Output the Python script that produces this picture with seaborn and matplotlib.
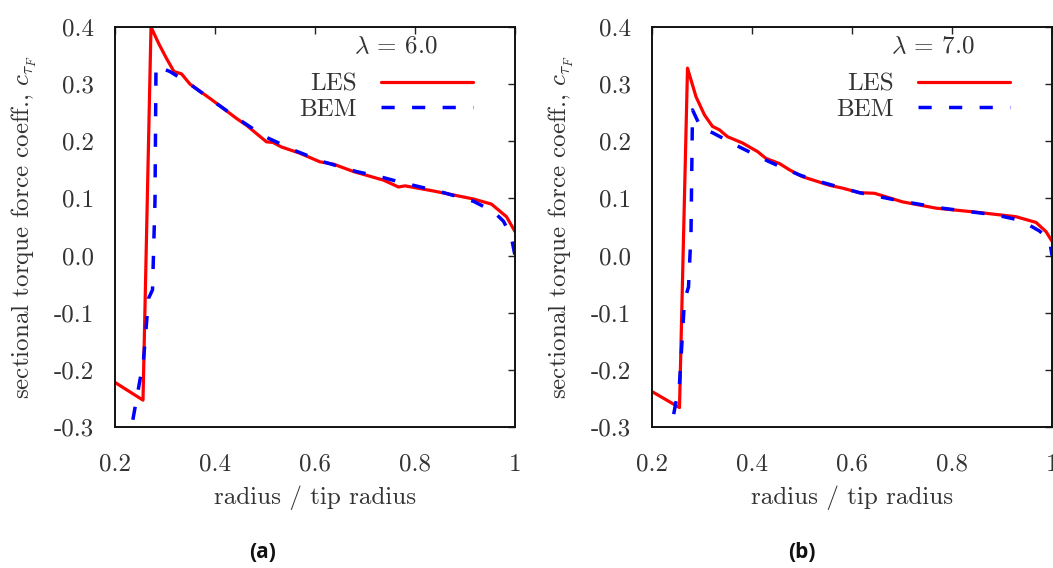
import numpy as np
import pandas as pd
import matplotlib
matplotlib.use("Agg")
import matplotlib.pyplot as plt
import seaborn as sns

# ---------------- data ----------------
les6_x = [0.20, 0.256, 0.272, 0.288, 0.303, 0.318, 0.333, 0.35, 0.39, 0.443, 0.463, 0.503,
          0.516, 0.533, 0.57, 0.61, 0.637, 0.677, 0.737, 0.767, 0.78, 0.837, 0.917, 0.953, 0.983, 1.0]
les6_y = [-0.222, -0.253, 0.40, 0.37, 0.345, 0.322, 0.318, 0.30, 0.275, 0.24, 0.228, 0.199,
          0.198, 0.19, 0.179, 0.164, 0.16, 0.147, 0.132, 0.12, 0.122, 0.113, 0.099, 0.09, 0.068, 0.042]
bem6_x = [0.225, 0.257, 0.267, 0.275, 0.28, 0.282, 0.31, 0.35, 0.40, 0.45, 0.50, 0.52, 0.556,
          0.617, 0.683, 0.73, 0.777, 0.85, 0.917, 0.957, 0.977, 0.992, 1.0]
bem6_y = [-0.34, -0.183, -0.075, -0.06, 0.097, 0.332, 0.322, 0.30, 0.268, 0.237, 0.208, 0.20, 0.185,
          0.164, 0.147, 0.138, 0.127, 0.112, 0.095, 0.077, 0.06, 0.035, 0.0]

les7_x = [0.20, 0.255, 0.271, 0.288, 0.305, 0.321, 0.335, 0.351, 0.381, 0.411, 0.428, 0.455, 0.475,
          0.501, 0.555, 0.581, 0.615, 0.645, 0.701, 0.768, 0.848, 0.928, 0.968, 0.988, 1.0]
les7_y = [-0.238, -0.266, 0.328, 0.278, 0.246, 0.226, 0.22, 0.208, 0.197, 0.182, 0.17, 0.161, 0.15,
          0.138, 0.123, 0.118, 0.11, 0.109, 0.094, 0.083, 0.076, 0.068, 0.058, 0.042, 0.025]
bem7_x = [0.232, 0.255, 0.265, 0.273, 0.278, 0.281, 0.298, 0.321, 0.375, 0.435, 0.495, 0.541,
          0.615, 0.70, 0.78, 0.888, 0.93, 0.955, 0.975, 0.995, 1.0]
bem7_y = [-0.33, -0.224, -0.078, -0.055, 0.039, 0.255, 0.223, 0.215, 0.19, 0.164, 0.141, 0.128,
          0.11, 0.095, 0.083, 0.071, 0.063, 0.053, 0.043, 0.027, 0.0]

tsr_labels = [r"$\lambda$ = 6.0", r"$\lambda$ = 7.0"]
panel_labels = ["(a)", "(b)"]
x_ticks = [0.2, 0.4, 0.6, 0.8, 1.0]
x_ticklabels = ["0.2", "0.4", "0.6", "0.8", "1"]
y_ticks = [0.4, 0.3, 0.2, 0.1, 0.0, -0.1, -0.2, -0.3]
y_ticklabels = ["0.4", "0.3", "0.2", "0.1", "0.0", "-0.1", "-0.2", "-0.3"]

# ---------------- style ----------------
sns.set_style("white")
plt.rcParams["font.family"] = ["cmr10", "DejaVu Serif"]
plt.rcParams["mathtext.fontset"] = "cm"
plt.rcParams["axes.formatter.use_mathtext"] = True
TXT = "#333333"
FS = 18

fig = plt.figure(figsize=(10.53, 5.68), dpi=100)
W, H = 1053, 568
axes = [fig.add_axes([115 / W, (H - 427) / H, 400 / W, 400 / H]),
        fig.add_axes([652 / W, (H - 427) / H, 400 / W, 400 / H])]

data = [(les6_x, les6_y, bem6_x, bem6_y), (les7_x, les7_y, bem7_x, bem7_y)]

for i, ax in enumerate(axes):
    lx, ly, bx, by = data[i]
    sns.lineplot(x=lx, y=ly, ax=ax, color="#ff0000", lw=2.3, sort=False, label="LES")
    sns.lineplot(x=bx, y=by, ax=ax, color="#0000ff", lw=2.5, sort=False, label="BEM",
                 linestyle=(0, (3.8, 5.0)))
    ax.set_xlim(0.2, 1.0)
    ax.set_ylim(-0.3, 0.4)
    ax.set_xticks(x_ticks)
    ax.set_xticklabels(x_ticklabels)
    ax.set_yticks(y_ticks)
    ax.set_yticklabels(y_ticklabels)
    ax.tick_params(axis="both", direction="in", length=5, width=1.0, color="#222222",
                   labelsize=FS, labelcolor=TXT, top=True, right=True)
    ax.tick_params(axis="x", pad=19)
    ax.tick_params(axis="y", pad=15)
    for s in ax.spines.values():
        s.set_linewidth(1.4)
        s.set_color("#111111")
    ax.set_xlabel("radius / tip radius", fontsize=FS, color=TXT, labelpad=7)
    ax.set_ylabel(r"sectional torque force coeff., $c_{\tau_F}$", fontsize=FS, color=TXT, labelpad=11)
    ax.text(0.7025, 0.95, tsr_labels[i], transform=ax.transAxes, ha="center", va="center",
            fontsize=FS, color=TXT)
    leg = ax.legend(loc="upper right", bbox_to_anchor=(0.895, 0.885), markerfirst=False,
                    frameon=False, fontsize=FS, handlelength=3.7, handletextpad=0.95,
                    labelspacing=0.12, borderpad=0, borderaxespad=0)
    for t in leg.get_texts():
        t.set_color(TXT)

for lab, xc in zip(panel_labels, [263, 802]):
    fig.text(xc / W, 1 - 553 / H, lab, ha="center", va="center",
             fontsize=15, fontweight="bold", family=["Open Sans", "DejaVu Sans"], color="#111111")

fig.savefig("out.png", dpi=100, facecolor="white")
